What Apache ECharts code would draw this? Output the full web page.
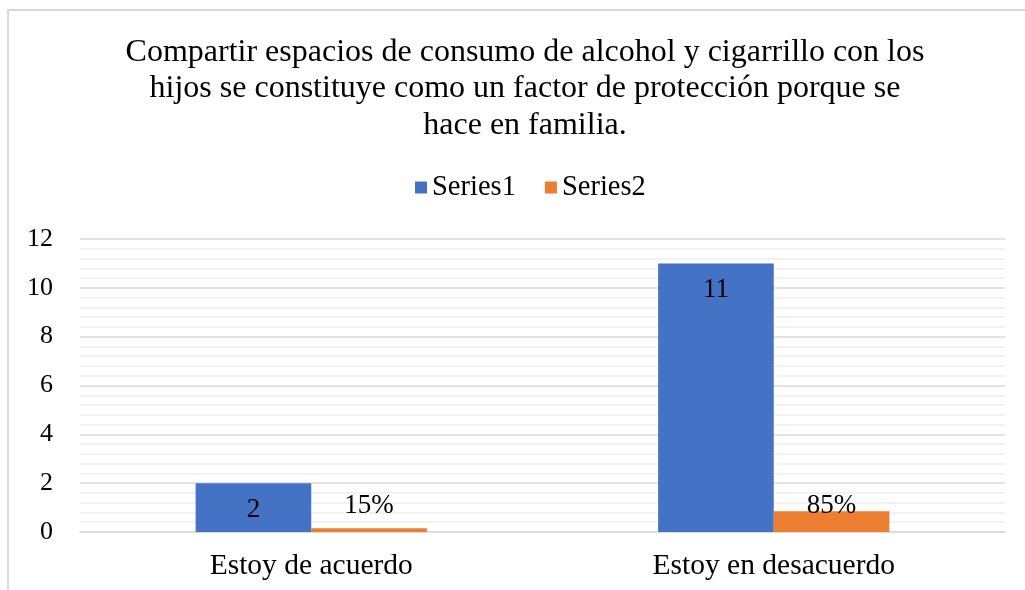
<!DOCTYPE html>
<html>
<head>
<meta charset="utf-8">
<script src="https://cdn.jsdelivr.net/npm/echarts@6/dist/echarts.min.js"></script>
<style>
    html, body { margin: 0; padding: 0; background: #fff; overflow: hidden; }
    #frame { position: absolute; left: 7px; top: 9px; width: 1100px; height: 700px; border: 2px solid #d9d9d9; }
    #main { position: absolute; left: 0; top: 0; width: 1025px; height: 590px; }
</style>
</head>
<body>
<div id="frame"></div>
<div id="main"></div>
<script type="text/javascript">
    // datos del gráfico
    var categorias = ['Estoy de acuerdo', 'Estoy en desacuerdo'];
    var series1 = [2, 11];
    var series2 = [0.15, 0.85];
    var etiquetas2 = ['15%', '85%'];
    var yTicks = [0, 2, 4, 6, 8, 10, 12];

    var fuente = '"Liberation Serif", "Times New Roman", serif';
    var myChart = echarts.init(document.getElementById('main'));

    var option = {
        animation: false,
        textStyle: { fontFamily: fuente, color: '#000' },
        title: {
            text: 'Compartir espacios de consumo de alcohol y cigarrillo con los\nhijos se constituye como un factor de protección porque se\nhace en familia.',
            left: 520,
            textAlign: 'center',
            top: 29,
            textStyle: {
                fontFamily: fuente,
                fontWeight: 'normal',
                fontSize: 32,
                lineHeight: 36.5,
                color: '#000'
            }
        },
        legend: {
            top: 168,
            left: 410,
            itemWidth: 12,
            itemHeight: 12,
            itemGap: 29,
            itemStyle: { borderWidth: 0 },
            icon: 'rect',
            textStyle: { fontFamily: fuente, fontSize: 28.5, color: '#000', padding: [0, 0, 0, 0] },
            data: ['Series1', 'Series2']
        },
        grid: {
            left: 80,
            right: 20,
            top: 239,
            bottom: 58
        },
        xAxis: {
            type: 'category',
            data: categorias,
            axisTick: { show: false },
            axisLine: { lineStyle: { color: '#d9d9d9', width: 1.5 } },
            axisLabel: {
                margin: 19,
                fontFamily: fuente,
                fontSize: 29.5,
                color: '#000'
            }
        },
        yAxis: {
            type: 'value',
            min: yTicks[0],
            max: yTicks[yTicks.length - 1],
            interval: 2,
            axisLine: { show: false },
            axisTick: { show: false },
            axisLabel: {
                margin: 27,
                fontFamily: fuente,
                fontSize: 26,
                color: '#000'
            },
            splitLine: { lineStyle: { color: '#d9d9d9', width: 1.5 } },
            minorTick: { show: false, splitNumber: 5 },
            minorSplitLine: { show: true, lineStyle: { color: '#eeeeee', width: 1.5 } }
        },
        series: [
            {
                name: 'Series1',
                type: 'bar',
                barGap: '0%',
                barCategoryGap: '50%',
                itemStyle: { color: '#4472c4' },
                label: {
                    show: true,
                    position: 'insideTop',
                    distance: 13,
                    fontFamily: fuente,
                    fontSize: 27,
                    color: '#000'
                },
                data: series1
            },
            {
                name: 'Series2',
                type: 'bar',
                itemStyle: { color: '#ed7d31' },
                label: {
                    show: true,
                    position: 'insideBottom',
                    distance: 13,
                    fontFamily: fuente,
                    fontSize: 27,
                    color: '#000',
                    formatter: function (p) { return etiquetas2[p.dataIndex]; }
                },
                data: series2
            }
        ]
    };
    myChart.setOption(option);
</script>
</body>
</html>
